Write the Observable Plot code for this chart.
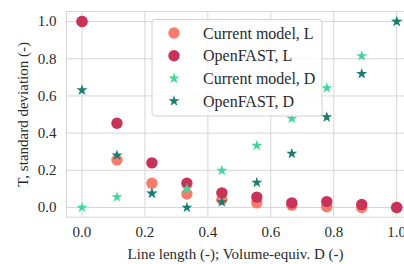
<!DOCTYPE html>
<html><head><meta charset="utf-8">
<script src="https://cdn.jsdelivr.net/npm/d3@7"></script>
<script src="https://cdn.jsdelivr.net/npm/@observablehq/plot@0.6"></script>
<style>
html,body{margin:0;padding:0;background:#fff;}
#chart{position:relative;width:404px;height:264px;overflow:hidden;}
</style>
</head><body><div id="chart"></div>
<script>
const xs = [0, 1/9, 2/9, 3/9, 4/9, 5/9, 6/9, 7/9, 8/9, 1];
const currentL = [1.0, 0.256, 0.131, 0.073, 0.043, 0.025, 0.013, 0.004, 0.0, 0.0];
const openfastL = [1.0, 0.453, 0.240, 0.131, 0.079, 0.056, 0.025, 0.032, 0.016, 0.0];
const currentD = [0.0, 0.056, 0.075, 0.100, 0.199, 0.333, 0.478, 0.643, 0.815, 1.0];
const openfastD = [0.631, 0.281, 0.077, 0.0, 0.029, 0.134, 0.290, 0.486, 0.719, 1.0];
const seriesNames = ["Current model, L", "OpenFAST, L", "Current model, D", "OpenFAST, D"];
const xTicks = [0, 0.2, 0.4, 0.6, 0.8, 1.0];
const yTicks = [0, 0.2, 0.4, 0.6, 0.8, 1.0];

const colors = ["#fa7b6b", "#c8335a", "#42d69b", "#177d72"];
const symbols = ["circle", "circle", "star", "star"];
const radii = [5.7, 5.7, 3.5, 3.5];
const allVals = [currentL, openfastL, currentD, openfastD];

const rows = [];
allVals.forEach((vals, s) => vals.forEach((v, i) => rows.push({x: xs[i], y: v, s})));

const font = "'Liberation Serif', 'Times New Roman', serif";
const gridColor = "#d6d6d6";
const textColor = "#2a2a2a";

const marks = [
  Plot.gridX(xTicks, {stroke: gridColor, strokeOpacity: 1, strokeWidth: 1}),
  Plot.gridY(yTicks, {stroke: gridColor, strokeOpacity: 1, strokeWidth: 1}),
  Plot.axisX(xTicks, {tickSize: 0, tickPadding: 9, tickFormat: d3.format(".1f"), fontSize: 15, fill: textColor,
    label: "Line length (-); Volume-equiv. D (-)", labelAnchor: "center", labelArrow: "none", labelOffset: 42}),
  Plot.axisY(yTicks, {tickSize: 0, tickPadding: 10, tickFormat: d3.format(".1f"), fontSize: 15, fill: textColor,
    label: "T, standard deviation (-)", labelAnchor: "center", labelArrow: "none", labelOffset: 49}),
  Plot.frame({stroke: gridColor, strokeOpacity: 1})
];
[0, 1, 2, 3].forEach(s => {
  marks.push(Plot.dot(rows.filter(d => d.s === s), {x: "x", y: "y", r: radii[s], symbol: symbols[s], fill: colors[s], stroke: "none"}));
});

const plot = Plot.plot({
  width: 404, height: 264,
  marginLeft: 66, marginRight: 0, marginTop: 11, marginBottom: 47.3,
  style: {fontFamily: font, fontSize: "16px", color: textColor, background: "#fff"},
  x: {domain: [-0.0492, 1.0248]},
  y: {domain: [-0.052, 1.054]},
  marks
});
document.getElementById("chart").appendChild(plot);

// legend drawn into the svg
const svg = d3.select(plot);
const g = svg.append("g").attr("font-family", font).attr("font-size", 16).attr("text-anchor", "start");
g.append("rect").attr("x", 152).attr("y", 19.5).attr("width", 170).attr("height", 96.5)
  .attr("rx", 3).attr("fill", "#fff").attr("fill-opacity", 0.8).attr("stroke", "#d0d0d0");
seriesNames.forEach((name, i) => {
  const cy = 33 + i * 22.7;
  const area = Math.PI * radii[i] * radii[i];
  g.append("path").attr("transform", `translate(174,${cy})`)
    .attr("d", d3.symbol(symbols[i] === "circle" ? d3.symbolCircle : d3.symbolStar, area)())
    .attr("fill", colors[i]);
  g.append("text").attr("x", 203).attr("y", cy).attr("dy", "0.35em").attr("text-anchor", "start")
    .attr("fill", textColor).text(name);
});
</script>
</body></html>
